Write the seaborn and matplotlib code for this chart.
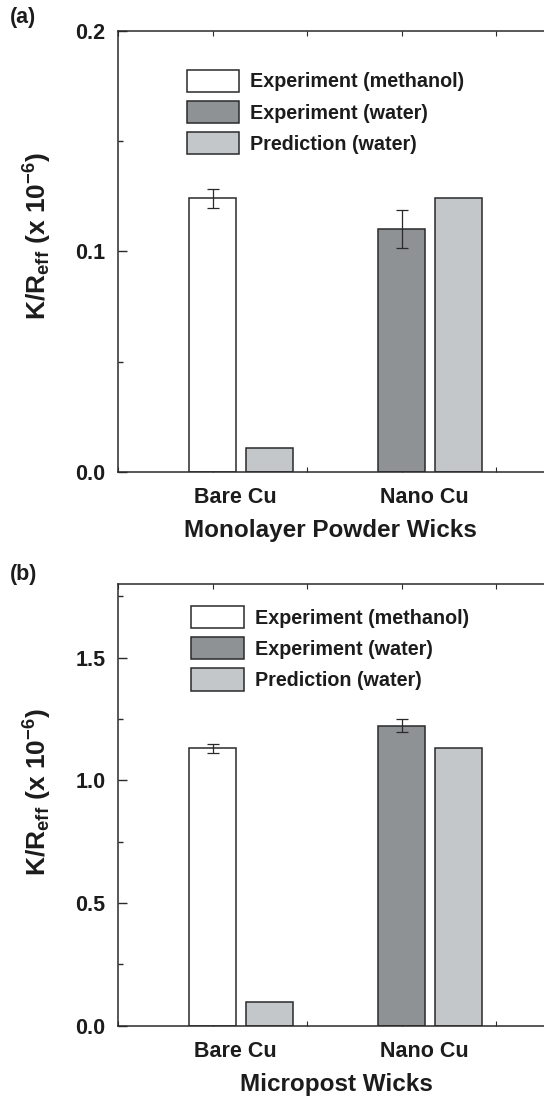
import numpy as np
import pandas as pd
import matplotlib
matplotlib.use("Agg")
import matplotlib.pyplot as plt
from matplotlib.patches import Patch
from matplotlib.ticker import MultipleLocator, FormatStrFormatter
import seaborn as sns

# ---------------- data ----------------
wicks = ["Bare Cu", "Nano Cu"]
series = ["Experiment (methanol)", "Experiment (water)", "Prediction (water)"]
colors = ["#ffffff", "#8e9295", "#c4c7ca"]

bar_wick = ["Bare Cu", "Bare Cu", "Nano Cu", "Nano Cu"]
bar_series = ["Experiment (methanol)", "Prediction (water)",
              "Experiment (water)", "Prediction (water)"]

# panel (a): Monolayer powder wicks
a_value = [0.124, 0.0106, 0.110, 0.124]
a_err = [0.0045, 0.0, 0.0087, 0.0]

# panel (b): Micropost wicks
b_value = [1.13, 0.098, 1.222, 1.13]
b_err = [0.02, 0.0, 0.026, 0.0]

# ---------------- style ----------------
sns.set_theme(style="ticks")
plt.rcParams["font.family"] = ["Liberation Sans", "DejaVu Sans"]
plt.rcParams["font.weight"] = "bold"
plt.rcParams["axes.labelweight"] = "bold"
plt.rcParams["mathtext.fontset"] = "custom"
plt.rcParams["mathtext.rm"] = "Liberation Sans"
plt.rcParams["mathtext.bf"] = "Liberation Sans:bold"
plt.rcParams["mathtext.it"] = "Liberation Sans:italic"
TXT = "#1c1c1c"
LINE = "#2a2a2a"
plt.rcParams["text.color"] = TXT
plt.rcParams["axes.labelcolor"] = TXT
plt.rcParams["xtick.labelcolor"] = TXT
plt.rcParams["ytick.labelcolor"] = TXT

W, H = 544, 1096
fig = plt.figure(figsize=(W / 100, H / 100), dpi=100)


def make_df(values, errs):
    df = pd.DataFrame({"wick": bar_wick, "series": bar_series,
                       "value": values, "err": errs})
    slot = np.where(df["series"].str.startswith("Experiment"), 0, 1)
    df["pos"] = 1 + 2 * df["wick"].map(wicks.index) + 0.6 * slot
    return df


def px_axes(left, right, top, bottom):
    return [left / W, 1 - bottom / H, (right - left) / W, (bottom - top) / H]


def panel(rect, values, errs, ylim, major, minor, xlabel, leg_anchor,
          ylab_y, xlab_x, letter, letter_y):
    ax = fig.add_axes(rect)
    df = make_df(values, errs)
    sns.barplot(data=df, x="pos", y="value", hue="series", hue_order=series,
                palette=dict(zip(series, colors)), native_scale=True,
                dodge=False, width=0.5 / 0.6, edgecolor=LINE, linewidth=1.1,
                errorbar=None, saturation=1, legend=False, ax=ax)
    m = df["err"] > 0
    ax.errorbar(df.loc[m, "pos"], df.loc[m, "value"], yerr=df.loc[m, "err"],
                fmt="none", ecolor=LINE, elinewidth=0.9, capsize=4.5,
                capthick=0.9, zorder=5)
    ax.set_xlim(0, 5)
    ax.set_ylim(*ylim)
    ax.yaxis.set_major_locator(MultipleLocator(major))
    ax.yaxis.set_minor_locator(MultipleLocator(minor))
    ax.yaxis.set_major_formatter(FormatStrFormatter("%.1f"))
    ax.set_xticks([1.24 + 2 * i for i in range(len(wicks))])
    ax.set_xticklabels(wicks)
    ax.xaxis.set_minor_locator(MultipleLocator(1))
    ax.tick_params(axis="y", which="major", direction="in", length=6.5,
                   width=1, pad=9, labelsize=15.5, color=LINE)
    ax.tick_params(axis="y", which="minor", direction="in", length=3.5,
                   width=1, color=LINE)
    ax.tick_params(axis="x", which="major", length=0, pad=11, labelsize=15.5)
    ax.tick_params(axis="x", which="minor", direction="in", length=3.5,
                   width=0.8, top=True, bottom=True, color=LINE)
    for s in ax.spines.values():
        s.set_linewidth(1.1)
        s.set_color(LINE)
    ax.set_xlabel(xlabel, fontsize=17.5)
    ax.xaxis.set_label_coords(xlab_x, -0.108)
    ax.set_ylabel(r"K/R$_\mathbf{eff}$ (x 10$^\mathbf{-6}$)", fontsize=19)
    ax.yaxis.set_label_coords(-0.135, ylab_y)
    handles = [Patch(facecolor=c, edgecolor=LINE, linewidth=1.1) for c in colors]
    ax.legend(handles, series, loc="upper left", bbox_to_anchor=leg_anchor,
              frameon=False, fontsize=14.2, handlelength=2.66,
              handleheight=1.36, handletextpad=0.56, labelspacing=0.45,
              borderpad=0, borderaxespad=0)
    fig.text(10 / W, 1 - letter_y / H, letter, fontsize=15.5, fontweight="bold",
             ha="left", va="top")
    return ax


panel(px_axes(118, 591, 31, 471.7), a_value, a_err, (0, 0.2), 0.1, 0.05,
      "Monolayer Powder Wicks", (0.1452, 0.912), 0.535, 0.45, "(a)", 7)
panel(px_axes(118, 591, 584, 1025.7), b_value, b_err, (0, 1.8), 0.5, 0.25,
      "Micropost Wicks", (0.155, 0.95), 0.53, 0.462, "(b)", 564)

fig.savefig("out.png", dpi=100)
